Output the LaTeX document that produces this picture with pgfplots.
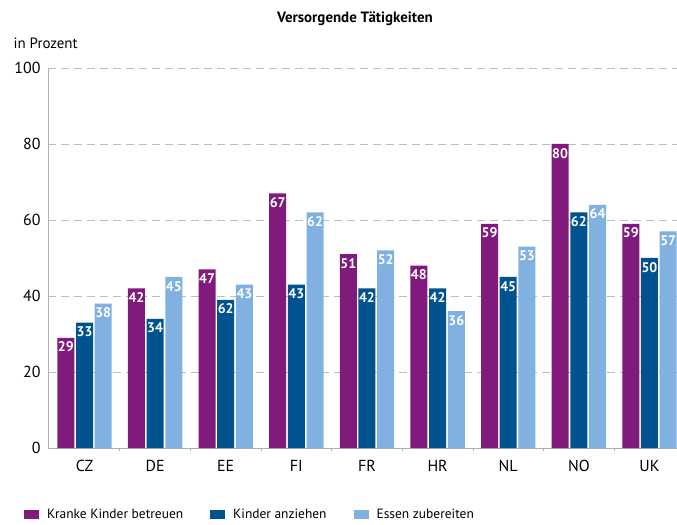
\documentclass[border=0pt]{standalone}
\usepackage{pgfplots}
\pgfplotsset{compat=1.18}
\usepackage{pgfplotstable}
\usepackage{fontspec}
\setmainfont{PT Sans}
\definecolor{cpurple}{RGB}{129,26,125}
\definecolor{cdark}{RGB}{0,83,142}
\definecolor{clight}{RGB}{128,177,224}
\definecolor{cgrid}{RGB}{190,190,190}
\definecolor{caxis}{RGB}{175,175,175}

\pgfplotstableread{
x y lab
0 29 29
1 42 42
2 47 47
3 67 67
4 51 51
5 48 48
6 59 59
7 80 80
8 59 59
}\kranke
\pgfplotstableread{
x y lab
0 33 33
1 34 34
2 39 62
3 43 43
4 42 42
5 42 42
6 45 45
7 62 62
8 50 50
}\anziehen
\pgfplotstableread{
x y lab
0 38 38
1 45 45
2 43 43
3 62 62
4 52 52
5 36 36
6 53 53
7 64 64
8 57 57
}\essen

\begin{document}
\begin{tikzpicture}
\useasboundingbox (-48bp,-77bp) rectangle (629bp,448bp);
\begin{axis}[
  at={(0,0)}, anchor=south west,
  scale only axis,
  width=629bp, height=380bp,
  xmin=-0.517, xmax=8.39,
  ymin=0, ymax=100,
  ytick={0,20,40,60,80,100},
  xtick={0,...,8},
  xticklabels={CZ,DE,EE,FI,FR,HR,NL,NO,UK},
  minor xtick={0.5,1.5,...,7.5},
  major tick length=0pt,
  minor tick length=3pt,
  minor tick style={caxis, line width=0.8pt},
  tick align=outside,
  axis x line*=bottom,
  axis y line*=left,
  axis line style={caxis, line width=0.8pt, -},
  ymajorgrids,
  grid style={cgrid, dash pattern=on 8bp off 5bp, line width=0.8pt},
  ticklabel style={font=\fontsize{16}{18}\selectfont, text=black},
  /pgf/number format/assume math mode=true,
  yticklabel style={xshift=-4bp},
  xticklabel style={yshift=-9bp},
  ybar, bar width=17bp,
  clip=false,
  point meta=explicit symbolic,
  nodes near coords,
  every node near coord/.append style={anchor=north, text=white, font=\bfseries\fontsize{14}{16}\selectfont, inner sep=1bp, yshift=-3bp},
  legend style={at={(0,0)}, anchor=north west, xshift=-27bp, yshift=-57bp, draw=none, fill=none,
    font=\fontsize{13.5}{16}\selectfont, legend columns=3,
    /tikz/every odd column/.append style={column sep=6bp},
    /tikz/every even column/.append style={column sep=25bp}},
  legend image code/.code={\fill[#1] (0bp,-4.5bp) rectangle (15bp,4.5bp);},
]
\addplot[draw=none, fill=cpurple, bar shift=-18.7bp] table[x=x, y=y, meta=lab] {\kranke};
\addplot[draw=none, fill=cdark, bar shift=0bp] table[x=x, y=y, meta=lab] {\anziehen};
\addplot[draw=none, fill=clight, bar shift=18.7bp] table[x=x, y=y, meta=lab] {\essen};
\legend{Kranke Kinder betreuen, Kinder anziehen, Essen zubereiten}
\node[font=\bfseries\fontsize{15}{17}\selectfont] at (rel axis cs:0.5,1) [yshift=49bp, xshift=-7.5bp] {Versorgende Tätigkeiten};
\node[font=\fontsize{15}{17}\selectfont, anchor=west] at (rel axis cs:0,1) [xshift=-38bp, yshift=25bp] {in Prozent};
\end{axis}
\end{tikzpicture}
\end{document}
